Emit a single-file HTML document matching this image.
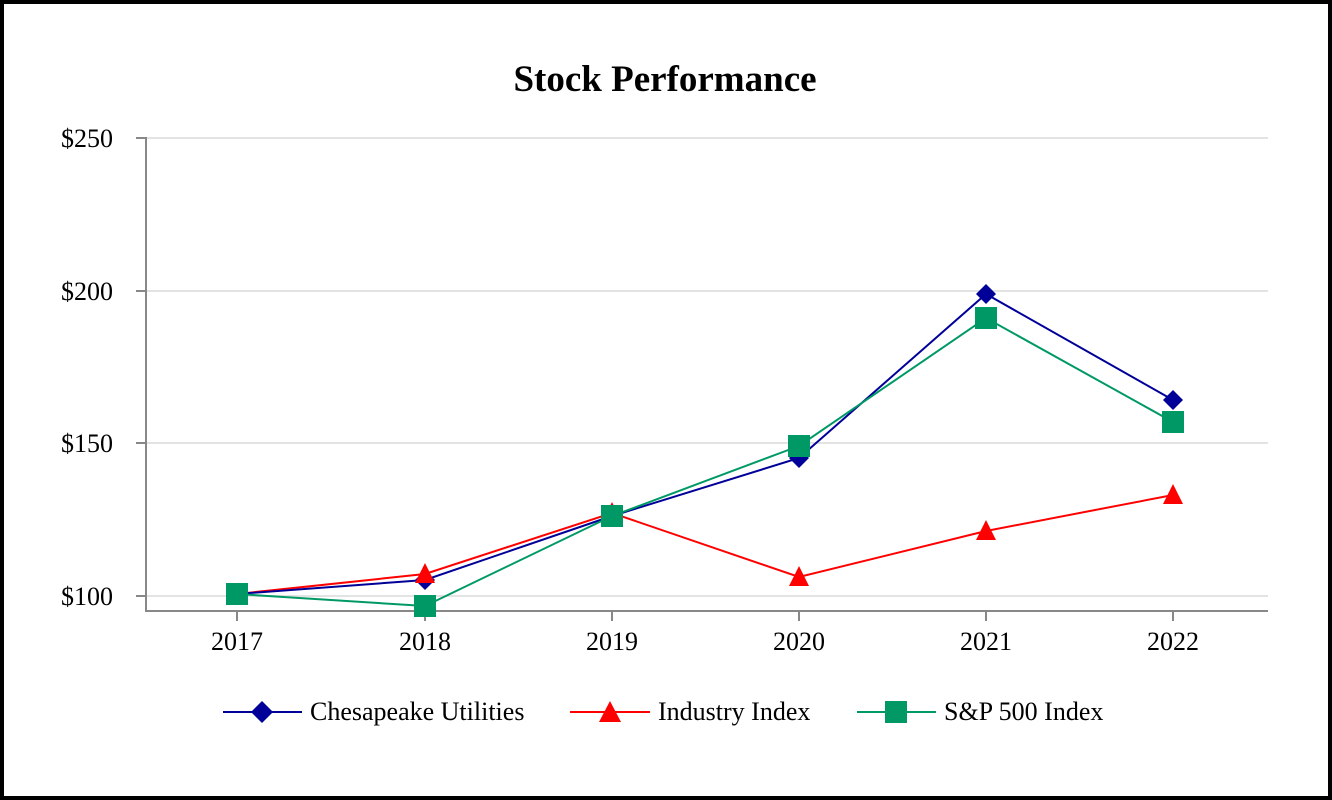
<!DOCTYPE html>
<html><head><meta charset="utf-8"><style>
html,body{margin:0;padding:0;background:#fff;}
svg{display:block;}
text{font-family:"Liberation Serif",serif;fill:#000;}
</style></head><body>
<svg width="1332" height="800" viewBox="0 0 1332 800">
<rect x="2" y="2" width="1328" height="796" fill="#fff" stroke="#000" stroke-width="4"/>
<text x="665" y="91" font-size="37" font-weight="bold" text-anchor="middle">Stock Performance</text>
<g stroke="#e3e3e3" stroke-width="2">
<line x1="146" y1="138" x2="1268" y2="138"/>
<line x1="146" y1="291" x2="1268" y2="291"/>
<line x1="146" y1="443" x2="1268" y2="443"/>
<line x1="146" y1="596" x2="1268" y2="596"/>
</g>
<g stroke="#888" stroke-width="2">
<line x1="146" y1="137" x2="146" y2="611"/>
<line x1="145" y1="611" x2="1268" y2="611"/>
<line x1="136" y1="138" x2="146" y2="138"/>
<line x1="136" y1="291" x2="146" y2="291"/>
<line x1="136" y1="443" x2="146" y2="443"/>
<line x1="136" y1="596" x2="146" y2="596"/>
<line x1="237" y1="611" x2="237" y2="621"/>
<line x1="425" y1="611" x2="425" y2="621"/>
<line x1="612" y1="611" x2="612" y2="621"/>
<line x1="799" y1="611" x2="799" y2="621"/>
<line x1="986" y1="611" x2="986" y2="621"/>
<line x1="1173" y1="611" x2="1173" y2="621"/>
</g>
<g font-size="26" text-anchor="end">
<text x="113" y="147">$250</text>
<text x="113" y="300">$200</text>
<text x="113" y="452">$150</text>
<text x="113" y="605">$100</text>
</g>
<g font-size="26" text-anchor="middle">
<text x="237" y="650">2017</text>
<text x="425" y="650">2018</text>
<text x="612" y="650">2019</text>
<text x="799" y="650">2020</text>
<text x="986" y="650">2021</text>
<text x="1173" y="650">2022</text>
</g>
<polyline fill="none" stroke="#ff0000" stroke-width="2" points="237,594 425,574 612,513 799,577 986,531 1173,495"/>
<polyline fill="none" stroke="#000099" stroke-width="2" points="237,594 425,580 612,516 799,458 986,294 1173,400"/>
<polyline fill="none" stroke="#009966" stroke-width="2" points="237,594 425,606 612,516 799,446 986,318 1173,422"/>
<g fill="#000099">
<polygon points="237,584 247,594 237,604 227,594"/>
<polygon points="425,570 435,580 425,590 415,580"/>
<polygon points="612,506 622,516 612,526 602,516"/>
<polygon points="799,448 809,458 799,468 789,458"/>
<polygon points="986,284 996,294 986,304 976,294"/>
<polygon points="1173,390 1183,400 1173,410 1163,400"/>
</g>
<g fill="#ff0000">
<polygon points="425,563 435,583 415,583"/>
<polygon points="612,502 622,522 602,522"/>
<polygon points="799,566 809,586 789,586"/>
<polygon points="986,520 996,540 976,540"/>
<polygon points="1173,484 1183,504 1163,504"/>
</g>
<g fill="#009966">
<rect x="226" y="583" width="22" height="22"/>
<rect x="414" y="595" width="22" height="22"/>
<rect x="601" y="505" width="22" height="22"/>
<rect x="788" y="435" width="22" height="22"/>
<rect x="975" y="307" width="22" height="22"/>
<rect x="1162" y="411" width="22" height="22"/>
</g>
<line x1="223" y1="712" x2="302" y2="712" stroke="#000099" stroke-width="2"/>
<polygon points="262,701 273,712 262,723 251,712" fill="#000099"/>
<text x="310" y="720" font-size="26">Chesapeake Utilities</text>
<line x1="570" y1="712" x2="650" y2="712" stroke="#ff0000" stroke-width="2"/>
<polygon points="610,701 621,722 599,722" fill="#ff0000"/>
<text x="658" y="720" font-size="26">Industry Index</text>
<line x1="857" y1="712" x2="936" y2="712" stroke="#009966" stroke-width="2"/>
<rect x="885" y="701" width="22" height="22" fill="#009966"/>
<text x="944" y="720" font-size="26">S&amp;P 500 Index</text>
</svg>
</body></html>
